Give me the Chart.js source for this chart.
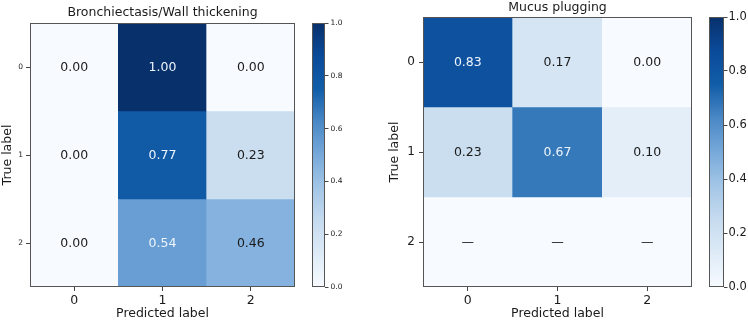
<!DOCTYPE html>
<html>
<head>
<meta charset="utf-8">
<script src="https://cdn.jsdelivr.net/npm/chart.js@4/dist/chart.umd.min.js"></script>
<style>
  html, body { margin: 0; padding: 0; background: #fff; }
  #wrap { position: relative; width: 748px; height: 321px; overflow: hidden; }
  canvas { position: absolute; top: 0; }
</style>
</head>
<body>
<div id="wrap">
  <canvas id="cmLeft" width="300" height="321" style="left:0"></canvas>
  <canvas id="cbLeft" width="74" height="321" style="left:300px"></canvas>
  <canvas id="cmRight" width="325" height="321" style="left:374px"></canvas>
  <canvas id="cbRight" width="49" height="321" style="left:699px"></canvas>
</div>
<script>
'use strict';

// ---- data ----------------------------------------------------
const predictedLabels = ['0', '1', '2'];
const trueLabels = ['0', '1', '2'];
const bronchiValues = [
    [0.00, 1.00, 0.00],
    [0.00, 0.77, 0.23],
    [0.00, 0.54, 0.46],
];
const mucusValues = [
    [0.83, 0.17, 0.00],
    [0.23, 0.67, 0.10],
    [null, null, null],
];
const colorbarTicks = [0.0, 0.2, 0.4, 0.6, 0.8, 1.0];

// "Blues"-like ramp, tuned to the picture's tones
const BLUES = ['#f7fbff', '#deebf7', '#c6dbef', '#a3c6e6', '#77a9da', '#4a88c6', '#115da8', '#0a4a9a', '#08306b'];
const FONT = "'DejaVu Sans', sans-serif";
const AXIS_COLOR = '#444';

function hexToRgb(h) {
    return [1, 3, 5].map(i => parseInt(h.substr(i, 2), 16));
}

function blues(v) {
    if (v == null) v = 0;
    const t = Math.max(0, Math.min(1, v)) * (BLUES.length - 1);
    const i = Math.min(Math.floor(t), BLUES.length - 2);
    const f = t - i;
    const a = hexToRgb(BLUES[i]), b = hexToRgb(BLUES[i + 1]);
    const c = a.map((x, k) => Math.round(x + (b[k] - x) * f));
    return `rgb(${c[0]},${c[1]},${c[2]})`;
}

// frame round the plot area
const framePlugin = {
    id: 'frame',
    afterDraw(chart) {
        const { ctx, chartArea: a } = chart;
        ctx.save();
        ctx.strokeStyle = '#555';
        ctx.lineWidth = 1;
        ctx.strokeRect(Math.round(a.left) + 0.5, Math.round(a.top) + 0.5,
            Math.round(a.right - a.left) - 1, Math.round(a.bottom - a.top) - 1);
        ctx.restore();
    }
};

// numbers in the cells
const cellTextPlugin = {
    id: 'cellText',
    afterDatasetsDraw(chart, args, opts) {
        const { ctx, scales: { x, y } } = chart;
        ctx.save();
        ctx.font = `${opts.size}px ${FONT}`;
        ctx.textAlign = 'center';
        ctx.textBaseline = 'middle';
        opts.values.forEach((row, r) => {
            row.forEach((v, c) => {
                ctx.fillStyle = (v != null && v > 0.5) ? '#eef5fc' : '#1a1a1a';
                const txt = v == null ? '—' : v.toFixed(2);
                ctx.fillText(txt, x.getPixelForValue(c), y.getPixelForValue(r) + 1);
            });
        });
        ctx.restore();
    }
};

function confusionChart(id, title, values, o) {
    const datasets = values.map((row, r) => ({
        data: predictedLabels.map(() => [r - 0.5, r + 0.5]),
        backgroundColor: row.map(blues),
        borderWidth: 0,
        grouped: false,
        barPercentage: 1,
        categoryPercentage: 1,
    }));

    return new Chart(document.getElementById(id), {
        type: 'bar',
        data: { labels: predictedLabels, datasets },
        plugins: [cellTextPlugin, framePlugin],
        options: {
            responsive: false,
            devicePixelRatio: 1,
            animation: false,
            layout: { padding: { left: 0, right: o.padRight, top: 0, bottom: 0 } },
            plugins: {
                legend: { display: false },
                tooltip: { enabled: false },
                title: {
                    display: true,
                    text: title,
                    fullSize: false,
                    color: '#1a1a1a',
                    font: { family: FONT, size: 12.5, weight: 'normal' },
                    padding: o.titlePad,
                },
                cellText: { values, size: 12.5 },
            },
            scales: {
                x: {
                    type: 'category',
                    afterFit: s => { s.height = 34; },
                    grid: { offset: false, drawOnChartArea: false, drawTicks: true, tickLength: 4, color: AXIS_COLOR },
                    border: { display: false },
                    ticks: { color: '#1a1a1a', font: { family: FONT, size: 12.5 }, padding: 2 },
                    title: {
                        display: true, text: 'Predicted label', color: '#1a1a1a',
                        font: { family: FONT, size: 12.5 }, padding: 0,
                    },
                },
                y: {
                    type: 'linear',
                    min: -0.5,
                    max: 2.5,
                    reverse: true,
                    afterFit: s => { s.width = o.yWidth; },
                    afterBuildTicks: s => { s.ticks = trueLabels.map((_, i) => ({ value: i })); },
                    grid: { drawOnChartArea: false, drawTicks: true, tickLength: 4, color: AXIS_COLOR },
                    border: { display: false },
                    ticks: {
                        color: '#1a1a1a', font: { family: FONT, size: o.yTickSize }, padding: o.yTickPad,
                        callback: v => trueLabels[v],
                    },
                    title: {
                        display: true, text: 'True label', color: '#1a1a1a',
                        font: { family: FONT, size: 12.5 }, padding: { top: o.yTitlePad, bottom: 0 },
                    },
                },
            },
        },
    });
}

function colorbar(id, o) {
    return new Chart(document.getElementById(id), {
        type: 'bar',
        data: {
            labels: ['cb'],
            datasets: [{
                data: [[colorbarTicks[0], colorbarTicks[colorbarTicks.length - 1]]],
                borderWidth: 0,
                barPercentage: 1,
                categoryPercentage: 1,
                backgroundColor: ctx => {
                    const a = ctx.chart.chartArea;
                    if (!a) return BLUES[4];
                    const g = ctx.chart.ctx.createLinearGradient(0, a.bottom, 0, a.top);
                    BLUES.forEach((c, i) => g.addColorStop(i / (BLUES.length - 1), c));
                    return g;
                },
            }],
        },
        plugins: [framePlugin],
        options: {
            responsive: false,
            devicePixelRatio: 1,
            animation: false,
            layout: { padding: { left: o.padLeft, right: 0, top: o.top, bottom: 34 } },
            plugins: { legend: { display: false }, tooltip: { enabled: false } },
            scales: {
                x: { display: false },
                y: {
                    position: 'right',
                    min: 0,
                    max: 1,
                    afterFit: s => { s.width = o.axisWidth; },
                    afterBuildTicks: s => { s.ticks = colorbarTicks.map(v => ({ value: v })); },
                    grid: { drawOnChartArea: false, drawTicks: true, tickLength: 3.5, color: AXIS_COLOR },
                    border: { display: false },
                    ticks: {
                        color: '#1a1a1a', font: { family: FONT, size: o.tickSize }, padding: o.tickPad,
                        callback: v => v.toFixed(1),
                    },
                },
            },
        },
    });
}

confusionChart('cmLeft', 'Bronchiectasis/Wall thickening', bronchiValues, {
    padRight: 5, yWidth: 30, yTickSize: 7.5, yTickPad: 3, yTitlePad: 0,
    titlePad: { top: 5, bottom: 3 },
});
colorbar('cbLeft', { padLeft: 12, top: 23, axisWidth: 49, tickSize: 7.5, tickPad: 2 });

confusionChart('cmRight', 'Mucus plugging', mucusValues, {
    padRight: 7, yWidth: 49, yTickSize: 12, yTickPad: 4, yTitlePad: 13,
    titlePad: { top: 0, bottom: 2 },
});
colorbar('cbRight', { padLeft: 10, top: 17, axisWidth: 24, tickSize: 11.5, tickPad: 1 });
</script>
</body>
</html>
